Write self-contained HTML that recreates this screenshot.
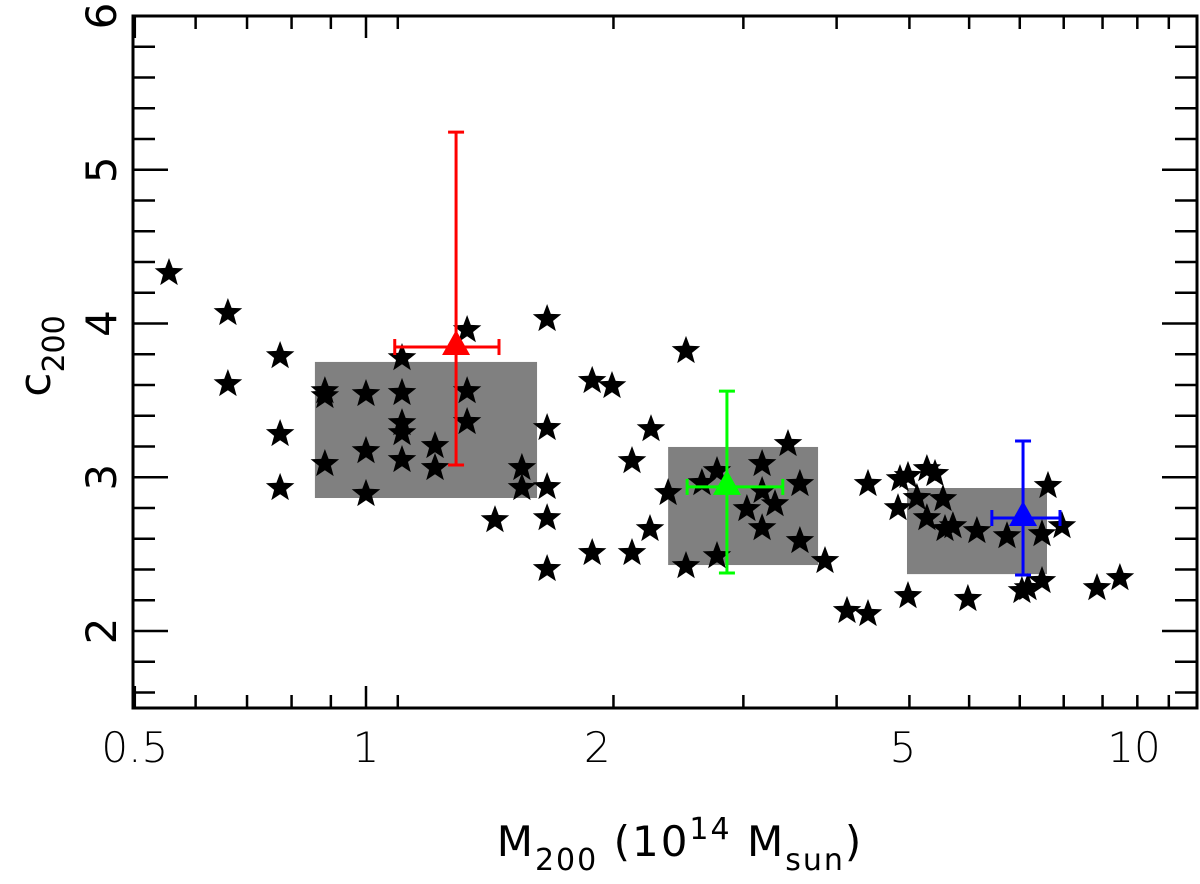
<!DOCTYPE html>
<html><head><meta charset="utf-8"><style>
html,body{margin:0;padding:0;background:#fff;width:1200px;height:884px;overflow:hidden}
text{font-family:"DejaVu Sans","Liberation Sans",sans-serif;fill:#000}
</style></head><body>
<svg id="chart" width="1200" height="884" viewBox="0 0 1200 884" xmlns="http://www.w3.org/2000/svg">
<g id="boxes"></g><g id="stars"></g><g id="errs"></g><g id="axes"></g>
</svg>
<script>
const starMass=[0.554,0.661,0.661,0.773,0.773,0.773,0.884,0.884,0.884,1.0,1.0,1.0,1.114,1.114,1.114,1.114,1.114,1.23,1.23,1.354,1.354,1.354,1.472,1.596,1.596,1.721,1.721,1.721,1.721,1.721,
1.97,1.97,2.091,2.22,2.22,2.343,2.35,2.474,2.61,2.61,2.738,2.864,2.864,3.133,3.279,3.279,3.279,3.408,3.544,3.673,3.673,3.96,
4.23,4.504,4.504,4.928,4.958,5.078,5.078,5.216,5.375,5.375,5.506,5.64,5.674,5.811,6.078,6.244,6.833,7.146,7.276,7.589,7.589,7.727,8.058,8.949,9.587];
const starConc=[4.335,4.075,3.613,3.795,3.288,2.937,3.567,3.535,3.093,3.548,3.177,2.898,3.782,3.555,3.359,3.294,3.119,3.21,3.067,3.964,3.567,3.366,2.728,3.067,2.937,4.036,3.327,2.943,2.741,2.41,
3.633,2.514,3.6,3.112,2.514,2.67,3.32,2.904,3.828,2.429,2.969,3.047,2.494,2.8,3.093,2.917,2.676,2.832,3.223,2.963,2.592,2.462,
2.137,2.117,2.963,2.806,2.995,3.015,2.234,2.872,3.06,2.741,3.028,2.865,2.67,2.689,2.215,2.657,2.624,2.267,2.286,2.637,2.332,2.95,2.689,2.286,2.351];
const boxXmin=[0.858,2.474,5.063];
const boxXmax=[1.67,3.878,7.704];
const boxYmin=[2.865,2.429,2.37];
const boxYmax=[3.75,3.197,2.93];
const binMass=[1.31,2.951,7.17];
const binConc=[3.847,2.937,2.735];
const binMassLo=[1.09,2.619,6.53];
const binMassHi=[1.49,3.489,8.01];
const binConcLo=[3.08,2.377,2.364];
const binConcHi=[5.245,3.56,3.236];
const binColors=['#ff0000','#00ff00','#0000ff'];
const binNames=['low-mass','mid-mass','high-mass'];
const xTicks=[0.5,1,2,5,10];
const xTickLabels=['0.5','1','2','5','10'];
const yTicks=[2,3,4,5,6];
const yTickLabels=['2','3','4','5','6'];

const L=133,R=1197,T=16,B=708;
const X=v=>366+768*Math.log10(v);
const Y=v=>631-(v-2)*153.75;
const NS='http://www.w3.org/2000/svg';
function mk(tag,attrs,parent){const e=document.createElementNS(NS,tag);for(const k in attrs)e.setAttribute(k,attrs[k]);parent.appendChild(e);return e;}
const gB=document.getElementById('boxes'),gS=document.getElementById('stars'),gE=document.getElementById('errs'),gA=document.getElementById('axes');

for(let i=0;i<boxXmin.length;i++){
  const r=mk('rect',{x:X(boxXmin[i]),y:Y(boxYmax[i]),width:X(boxXmax[i])-X(boxXmin[i]),height:Y(boxYmin[i])-Y(boxYmax[i]),fill:'#808080'},gB);
  
  
}
function starPath(cx,cy,ro){const ri=ro*0.42;let d='';for(let k=0;k<10;k++){const a=-Math.PI/2+k*Math.PI/5;const rr=k%2?ri:ro;d+=(k?'L':'M')+(cx+rr*Math.cos(a)).toFixed(1)+','+(cy+rr*Math.sin(a)).toFixed(1);}return d+'Z';}
for(let i=0;i<starMass.length;i++){
  const p=mk('path',{d:starPath(X(starMass[i]),Y(starConc[i])+1,15),fill:'#000'},gS);
  
  
}
for(let i=0;i<binMass.length;i++){
  const g=mk('g',{stroke:binColors[i],'stroke-width':3,fill:'none'},gE);
  
  
  const cx=X(binMass[i]),cy=Y(binConc[i]);
  const y1=Y(binConcHi[i]),y2=Y(binConcLo[i]),x1=X(binMassLo[i]),x2=X(binMassHi[i]);
  mk('line',{x1:cx,y1:y1,x2:cx,y2:y2},g);
  mk('line',{x1:cx-8,y1:y1,x2:cx+8,y2:y1},g);
  mk('line',{x1:cx-8,y1:y2,x2:cx+8,y2:y2},g);
  mk('line',{x1:x1,y1:cy,x2:x2,y2:cy},g);
  mk('line',{x1:x1,y1:cy-8,x2:x1,y2:cy+8},g);
  mk('line',{x1:x2,y1:cy-8,x2:x2,y2:cy+8},g);
  const t=mk('path',{d:`M${cx},${cy-17}L${cx+14},${cy+8}L${cx-14},${cy+8}Z`,fill:binColors[i]},gE);
  
  
}
const fr=mk('rect',{x:L,y:T,width:R-L,height:B-T,fill:'none',stroke:'#000','stroke-width':3},gA);


const tg=mk('g',{stroke:'#000','stroke-width':2.5},gA);


for(let d=0.5;d<=12.01;){
  const step=d<1?0.1:1;
  const v=Math.round(d*10)/10;
  const major=xTicks.includes(v);
  const len=major?22:13,x=X(v);
  mk('line',{x1:x,y1:B,x2:x,y2:B-len},tg);
  mk('line',{x1:x,y1:T,x2:x,y2:T+len},tg);
  d+=step;
}
for(let k=0;k<=22;k++){
  const v=1.6+k*0.2;const vr=Math.round(v*10)/10;
  if(vr>6)break;
  const major=Math.abs(vr-Math.round(vr))<1e-6;
  const len=major?35:22,y=Y(vr);
  mk('line',{x1:L,y1:y,x2:L+len,y2:y},tg);
  mk('line',{x1:R,y1:y,x2:R-len,y2:y},tg);
}
for(let i=0;i<xTicks.length;i++){
  const t=mk('text',{x:X(xTicks[i]),y:762,'font-size':42,'text-anchor':'middle','font-weight':'300'},gA);
  t.textContent=xTickLabels[i];
  
  
}
for(let i=0;i<yTicks.length;i++){
  const y=Y(yTicks[i]);
  const t=mk('text',{x:0,y:0,'font-size':42,'text-anchor':'middle',transform:`translate(116,${y}) rotate(-90)`},gA);
  t.textContent=yTickLabels[i];
  
  
}
</script>
<svg style="position:absolute;left:0;top:0" width="1200" height="884">
<text x="680" y="856" font-size="42" letter-spacing="2" text-anchor="middle" style="font-family:'DejaVu Sans','Liberation Sans',sans-serif">M<tspan font-size="30" dy="14">200</tspan><tspan dy="-14">  (10</tspan><tspan font-size="30" dy="-17">14</tspan><tspan dy="17">  M</tspan><tspan font-size="30" dy="14">sun</tspan><tspan dy="-14">)</tspan></text>
<text transform="translate(50,356) rotate(-90)" font-size="44" text-anchor="middle" style="font-family:'DejaVu Sans','Liberation Sans',sans-serif">c<tspan font-size="30" dy="14">200</tspan></text>
</svg>
</body></html>
